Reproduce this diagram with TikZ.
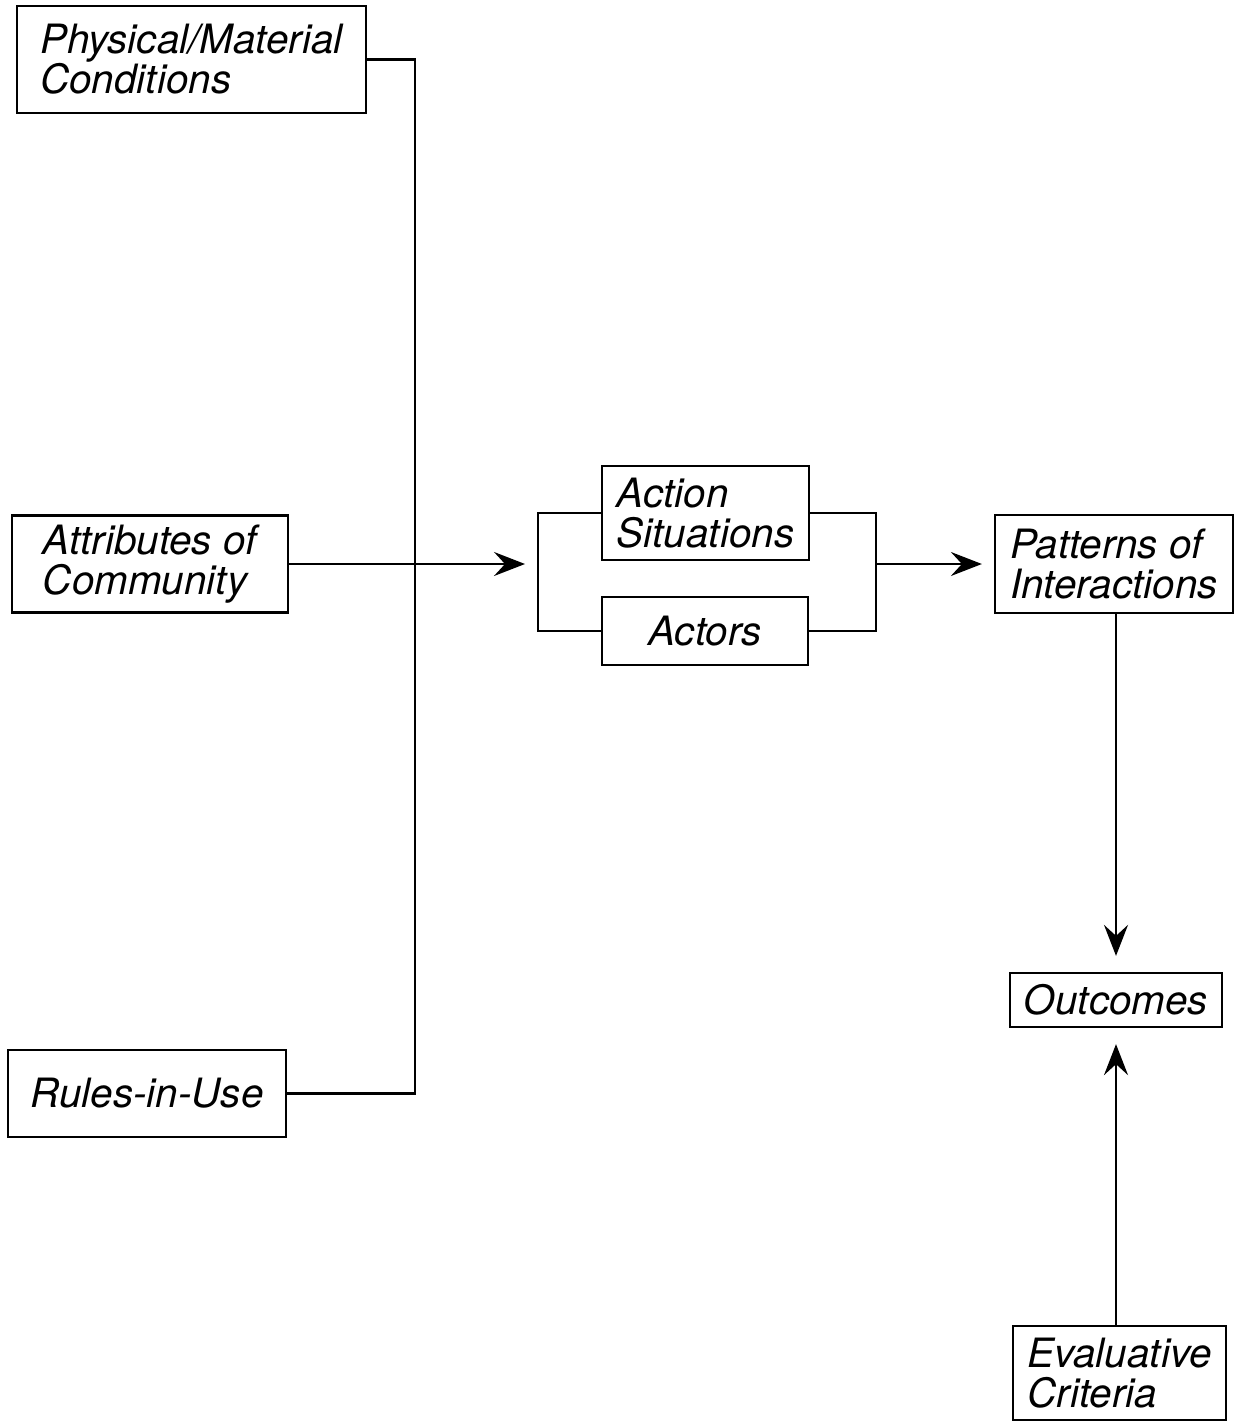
\documentclass[tikz,border=0pt]{standalone}
\usepackage{fontspec}
\setmainfont{TeX Gyre Heros}
\usetikzlibrary{arrows.meta}

\begin{document}
\begin{tikzpicture}[x=0.02cm, y=-0.02cm, line width=1.3pt,
  >={Stealth[length=0.62cm,width=0.48cm,inset=0.22cm]},
  box/.style={draw, inner sep=0pt, align=left, font=\fontsize{23}{22.8}\selectfont\itshape}]
  \useasboundingbox (0,0) rectangle (1233,1422);

  \node[box, minimum width=6.98cm, minimum height=2.14cm] (phys) at (191.5,59.5) {Physical/Material\\Conditions};
  \node[box, minimum width=5.52cm, minimum height=1.94cm] (attr) at (150,564) {Attributes of\\Community};
  \node[box, minimum width=5.56cm, minimum height=1.74cm] (rules) at (147,1093.5) {Rules-in-Use};
  \node[box, minimum width=4.14cm, minimum height=1.88cm] (action) at (705.5,513) {Action\\Situations};
  \node[box, minimum width=4.12cm, minimum height=1.36cm] (actors) at (705,631) {Actors};
  \node[box, minimum width=4.76cm, minimum height=1.96cm] (patterns) at (1114,564) {Patterns of\\Interactions};
  \node[box, minimum width=4.24cm, minimum height=1.08cm] (outcomes) at (1116,1000) {Outcomes};
  \node[box, minimum width=4.26cm, minimum height=1.88cm] (evalc) at (1119.5,1373) {Evaluative\\Criteria};

  \coordinate (bus) at (415,564);
  \coordinate (lb) at (538,564);
  \coordinate (rb) at (876,564);

  \draw (phys.east) -| (bus) |- (rules.east);
  \draw[->, shorten >=0.26cm] (attr) -- (lb);
  \draw (action.west) -| (lb) |- (actors.west);
  \draw (action.east) -| (rb) |- (actors.east);
  \draw[->, shorten >=0.24cm] (rb) -- (patterns);
  \draw[->, shorten >=0.32cm] (patterns.south -| outcomes) -- (outcomes);
  \draw[->, shorten >=0.32cm] (evalc.north -| outcomes) -- (outcomes);
\end{tikzpicture}
\end{document}
